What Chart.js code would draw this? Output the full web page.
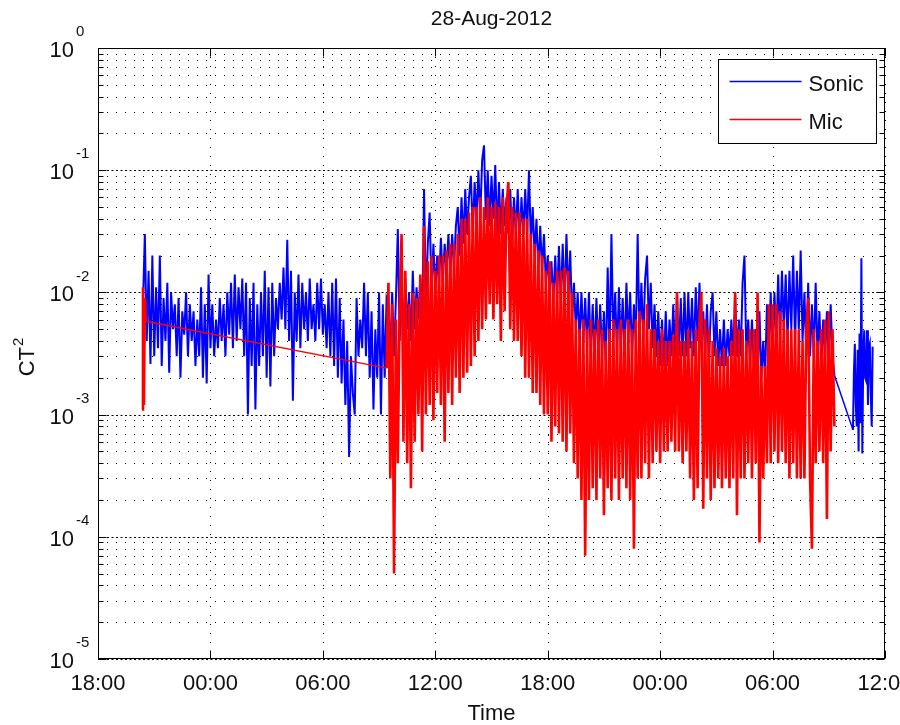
<!DOCTYPE html>
<html><head><meta charset="utf-8">
<script src="https://cdn.jsdelivr.net/npm/chart.js@4.4.0/dist/chart.umd.min.js"></script>
<style>html,body{margin:0;padding:0;background:#fff;overflow:hidden}#wrap{width:900px;height:725px}canvas{display:block}</style>
</head><body><div id="wrap"><canvas id="c" width="900" height="725" style="width:900px;height:725px"></canvas></div>
<script>
// ---------- texts & ticks ----------
const chartTitle = '28-Aug-2012';
const xAxisTitle = 'Time';
const yAxisTitle = 'CT';
const yAxisTitleSup = '2';
const seriesNames = ['Sonic', 'Mic'];
const seriesColors = ['#0000ff', '#ff0000'];
const xTickHours = [0, 6, 12, 18, 24, 30, 36, 42];           // hours after 18:00
const xTickLabels = ['18:00', '00:00', '06:00', '12:00', '18:00', '00:00', '06:00', '12:00'];
const yDecades = [1e-5, 1e-4, 1e-3, 1e-2, 1e-1, 1];
const yExponents = ['-5', '-4', '-3', '-2', '-1', '0'];
const yMinorMultipliers = [2, 3, 4, 5, 6, 7, 8, 9];

// ---------- Sonic (blue) ----------
const sonicStartHour = 2.4;     // sampled every 0.1 h
const sonicStepHour = 0.1;
const sonicValues = [
8e-3,3e-2,4e-3,1.5e-2,2.6e-3,2e-2,3e-3,1.1e-2,3.5e-3,2e-2,
2.5e-3,9e-3,4e-3,1.2e-2,2.2e-3,1e-2,5e-3,8e-3,3e-3,9e-3,
2e-3,7e-3,4.5e-3,1e-2,3e-3,8e-3,4e-3,7e-3,2.5e-3,6e-3,
3e-3,1.1e-2,2e-3,8e-3,1.8e-3,1.4e-2,3.5e-3,8e-3,3e-3,6e-3,
3.5e-3,9e-3,4e-3,8e-3,3e-3,1e-2,4.5e-3,1.2e-2,3.5e-3,1.4e-2,
4e-3,1.1e-2,5e-3,1.3e-2,3e-3,1.2e-2,1e-3,9e-3,2.5e-3,1.2e-2,
1.1e-3,8e-3,2.5e-3,1e-2,3e-3,1.5e-2,2e-3,1.1e-2,1.7e-3,1.2e-2,
3e-3,9e-3,5e-3,1.2e-2,6e-3,1.6e-2,5e-3,2.7e-2,4e-3,1.5e-2,
1.3e-3,1e-2,4e-3,1.4e-2,3.5e-3,1.2e-2,5e-3,1e-2,4e-3,1.3e-2,
5e-3,8e-3,4e-3,1.2e-2,5e-3,1.3e-2,4.5e-3,8e-3,3.5e-3,1e-2,
3e-3,1.2e-2,2.5e-3,1.3e-2,2e-3,9e-3,1.8e-3,6e-3,1.2e-3,4e-3,
4.5e-4,3e-3,1.5e-3,1e-3,9e-3,3e-3,6e-3,3.5e-3,1.2e-2,3e-3,
1e-2,2e-3,7e-3,1.1e-3,5e-3,2e-3,1e-2,1e-3,8e-3,2e-3,9e-3,
8e-3,3e-3,1e-2,3e-3,
9e-3,3.3e-2,4e-3,1.2e-2,4e-3,
1.3e-2,5e-3,1e-2,4e-3,1.5e-2,
5e-3,1.1e-2,6e-3,1.3e-2,5e-3,
7e-2,8e-3,2.5e-2,4.5e-2,1e-2,
2.5e-2,1e-2,2e-2,1.2e-2,2.8e-2,
1.2e-2,2.5e-2,1.5e-2,3e-2,1.4e-2,
3e-2,1.6e-2,3.5e-2,5e-2,2e-2,
6e-2,2.5e-2,7e-2,3e-2,6e-2,
9e-2,3e-2,8e-2,4e-2,1e-1,
4e-2,1.2e-1,1.6e-1,4e-2,1e-1,
3.5e-2,9e-2,4e-2,1.1e-1,3e-2,
8e-2,3e-2,7e-2,3.5e-2,6e-2,
3e-2,7e-2,2.5e-2,6e-2,3e-2,
7e-2,2.5e-2,6e-2,3e-2,7e-2,
3e-2,1e-1,2.5e-2,5e-2,2e-2,
4e-2,1.5e-2,3.5e-2,1.5e-2,3e-2,
1.2e-2,2e-2,1e-2,1.8e-2,8e-3,
2e-2,9e-3,2.4e-2,8e-3,2.5e-2,
8e-3,3e-2,9e-3,2.2e-2,6e-3,
1.2e-2,5e-3,1e-2,4e-3,1e-2,
4e-3,9e-3,3.5e-3,1e-2,3e-3,
8e-3,3e-3,9e-3,3e-3,8e-3,
3e-3,7e-3,2.5e-3,1.6e-2,3e-3,
3e-2,4e-3,1e-2,3e-3,1.1e-2,
3.5e-3,9e-3,3e-3,1.2e-2,4e-3,
1e-2,3e-3,8e-3,4e-3,3e-2,
4e-3,1.2e-2,4e-3,1.3e-2,2e-2,
5e-3,1.2e-2,3.5e-3,8e-3,3e-3,
7e-3,2.5e-3,6e-3,2.5e-3,7e-3,
2.5e-3,6e-3,3e-3,8e-3,3e-3,
1e-2,3e-3,9e-3,3e-3,1e-2,
3e-3,1e-2,3.5e-3,9e-3,3e-3,
1.1e-2,4e-3,1.2e-2,3.5e-3,7e-3,
3e-3,8e-3,2.5e-3,7e-3,1e-2,
3e-3,7e-3,2.5e-3,5e-3,2.5e-3,
6e-3,2.5e-3,5e-3,3e-3,6e-3,
3e-3,1e-2,3e-3,6e-3,3e-3,
1.2e-2,2e-2,3e-3,6e-3,2.5e-3,
6e-3,2.5e-3,5e-3,2e-3,7e-3,
2e-3,4e-3,2e-3,8e-3,3e-3,
1e-2,3e-3,1e-2,4e-3,1.4e-2,
4e-3,1.5e-2,5e-3,1.4e-2,4e-3,
1.5e-2,5e-3,2e-2,4e-3,1.5e-2,
5e-3,2.2e-2,4e-3,1e-2,3e-3,
1.2e-2,3e-3,8e-3,3e-3,1.2e-2,
3e-3,7e-3,2.5e-3,6e-3,3e-3,
7e-3,2.5e-3,8e-3,3e-3,2.1e-3
];
const sonicTailStartHour = 40.29;  // after a gap, sampled every 0.05 h
const sonicTailStepHour = 0.05;
const sonicTailValues = [7.5e-4,2.2e-3,3.8e-3,1.2e-3,8e-4,3.4e-3,5e-4,4.6e-3,8.5e-4,1.9e-2,4.8e-4,3e-3,4.9e-3,2e-3,1.9e-3,4.9e-3,1.2e-3,3.5e-3,3.8e-3,1.5e-3,8e-4,3.6e-3];

// ---------- Mic (red) ----------
const micFirstStartHour = 2.35;   // short burst, every 0.05 h
const micFirstStepHour = 0.05;
const micFirstValues = [1.1e-3, 1.1e-2, 1.2e-3, 9e-3, 5.8e-3];
const micMainStartHour = 15.4;    // after data gap, every 0.1 h
const micMainStepHour = 0.1;
const micMainValues = [
2.4e-3,1.2e-2,3e-4,8e-3,5e-5,
6e-3,4e-4,8e-3,3e-2,6e-4,
1.5e-2,4e-4,8e-3,2.5e-4,1e-2,
6e-4,9e-3,1e-3,1.4e-2,5e-4,
3.5e-2,1e-3,1.8e-2,1.2e-3,2e-2,
9e-4,1.5e-2,1.5e-3,2e-2,1.2e-3,
2e-2,6e-4,2.2e-2,1.5e-3,2.5e-2,
1.2e-3,2.5e-2,2e-3,3e-2,1.5e-3,
4e-2,2e-3,4e-2,2.2e-3,4.5e-2,
2.5e-3,5e-2,3e-3,5e-2,4e-3,
6e-2,5e-3,5e-2,6e-3,6e-2,
8e-3,5e-2,6e-3,5.5e-2,8e-3,
5e-2,4e-3,6e-2,7e-3,5e-2,
8e-2,5e-3,5e-2,4e-3,4.5e-2,
4e-3,4.5e-2,3e-3,4e-2,2e-3,
4e-2,2e-3,3e-2,1.5e-3,2.5e-2,
1.5e-3,2.2e-2,1.2e-3,2e-2,1e-3,
1.5e-2,1e-3,1.8e-2,6e-4,1.2e-2,
8e-4,1.5e-2,7e-4,1.5e-2,6e-4,
1.6e-2,5e-4,1.5e-2,7e-4,1e-2,
4e-4,6e-3,3e-4,5e-3,2e-4,
6e-3,7e-5,5e-3,2e-4,6e-3,
2.5e-4,5e-3,2e-4,6e-3,3e-4,
5e-3,1.5e-4,4e-3,2.5e-4,5e-3,
2e-4,6e-3,3e-4,5e-3,2e-4,
6e-3,3e-4,5e-3,2.5e-4,6e-3,
2e-4,5e-3,8e-5,6e-3,3e-4,
7e-3,3e-4,6e-3,4e-4,8e-3,
3e-4,5e-3,4e-4,5e-3,5e-4,
4e-3,4e-4,5e-3,5e-4,4e-3,
5e-4,4e-3,6e-4,4.5e-3,5e-4,
1e-2,5e-4,4e-3,4e-4,4e-3,
5e-4,5e-3,3e-4,4e-3,2e-4,
5e-3,2.5e-4,6e-3,1e-2,1.7e-4,
6e-3,3e-4,5e-3,2e-4,4e-3,
2.5e-4,3.5e-3,3e-4,3e-3,2.5e-4,
3.5e-3,3e-4,3e-3,2.5e-4,4e-3,
3e-4,1e-2,1.5e-4,5e-3,3e-4,
5e-3,3e-4,4e-3,4e-4,5e-3,
3e-4,5e-3,4e-4,1e-2,9e-5,
2.5e-3,3e-4,2.5e-3,4e-4,8e-3,
4e-4,8e-3,5e-4,8e-3,4e-4,
7e-3,5e-4,6e-3,4e-4,5e-3,
3e-4,5e-3,4e-4,5e-3,3e-4,
5e-3,3e-4,4e-3,3e-4,5e-3,
9e-3,3e-4,8e-5,5e-3,4e-4,
4e-3,5e-4,5e-3,4e-4,6e-3,
1.4e-4,7e-3,5e-4,5e-3,8e-4
];

// ---------- build point lists (time axis = sample grid) ----------
function toPoints(startHour, stepHour, values) {
  return values.map((v, i) => ({ x: startHour + i * stepHour, y: v }));
}
const sonicData = toPoints(sonicStartHour, sonicStepHour, sonicValues)
  .concat(toPoints(sonicTailStartHour, sonicTailStepHour, sonicTailValues));
const micData = toPoints(micFirstStartHour, micFirstStepHour, micFirstValues)
  .concat(toPoints(micMainStartHour, micMainStepHour, micMainValues));

const FONT = '"Liberation Sans", Arial, Helvetica, sans-serif';
// thinner stroke across long data gaps (straight joining segments)
const gapWidth = (wide) => (c) => (c.p1.parsed.x - c.p0.parsed.x > 0.5 ? 1.5 : wide);

const matlabPlugin = {
  id: 'matlabAxes',
  beforeDatasetsDraw(chart) {
    const { ctx, chartArea: a, scales: { x: xs, y: ys } } = chart;
    ctx.save();
    ctx.strokeStyle = '#000';
    ctx.lineWidth = 1;
    ctx.setLineDash([1, 8]);
    for (let d = 0; d < yDecades.length - 1; d++) {
      for (const m of yMinorMultipliers) {
        const py = Math.round(ys.getPixelForValue(yDecades[d] * m)) + 0.5;
        ctx.beginPath(); ctx.moveTo(a.left, py); ctx.lineTo(a.right, py); ctx.stroke();
      }
    }
    ctx.setLineDash([2, 2.5]);
    for (const v of yDecades) {
      const py = Math.round(ys.getPixelForValue(v)) + 0.5;
      ctx.beginPath(); ctx.moveTo(a.left, py); ctx.lineTo(a.right, py); ctx.stroke();
    }
    ctx.setLineDash([1, 8]);
    for (const h of xTickHours) {
      const px = Math.round(xs.getPixelForValue(h)) + 0.5;
      ctx.beginPath(); ctx.moveTo(px, a.top); ctx.lineTo(px, a.bottom); ctx.stroke();
    }
    ctx.restore();
  },
  afterDatasetsDraw(chart) {
    const { ctx, chartArea: a, scales: { x: xs, y: ys } } = chart;
    ctx.save();
    ctx.setLineDash([]);
    ctx.strokeStyle = '#000';
    ctx.lineWidth = 1;
    const L = Math.round(a.left) + 0.5, R = Math.round(a.right) - 0.5;
    const T = Math.round(a.top) + 0.5, B = Math.round(a.bottom) - 0.5;
    ctx.strokeRect(L, T, R - L, B - T);
    const ytick = (v, len) => {
      const py = Math.round(ys.getPixelForValue(v)) + 0.5;
      ctx.beginPath();
      ctx.moveTo(L, py); ctx.lineTo(L + len, py);
      ctx.moveTo(R, py); ctx.lineTo(R - len, py);
      ctx.stroke();
    };
    for (let d = 0; d < yDecades.length - 1; d++) for (const m of yMinorMultipliers) ytick(yDecades[d] * m, 5);
    for (const v of yDecades) ytick(v, 8);
    for (const h of xTickHours) {
      const px = Math.round(xs.getPixelForValue(h)) + 0.5;
      ctx.beginPath();
      ctx.moveTo(px, B); ctx.lineTo(px, B - 8);
      ctx.moveTo(px, T); ctx.lineTo(px, T + 8);
      ctx.stroke();
    }
    // legend
    const lw = 158, lh = 84;
    const lx = Math.round(a.right - 9 - lw) + 0.5, ly = Math.round(a.top + 11) + 0.5;
    ctx.fillStyle = '#fff';
    ctx.fillRect(lx, ly, lw, lh);
    ctx.strokeStyle = '#000';
    ctx.strokeRect(lx, ly, lw, lh);
    ctx.font = '22px ' + FONT;
    ctx.textBaseline = 'middle';
    ctx.textAlign = 'left';
    chart.data.datasets.forEach((ds, i) => {
      const cy = ly + 22 + i * 38;
      ctx.strokeStyle = ds.borderColor;
      ctx.lineWidth = 1.5;
      ctx.beginPath(); ctx.moveTo(lx + 11, cy); ctx.lineTo(lx + 83, cy); ctx.stroke();
      ctx.fillStyle = '#111';
      ctx.fillText(ds.label, lx + 90, cy + 3);
    });
    ctx.restore();
  },
  afterDraw(chart) {
    const { ctx, chartArea: a, scales: { x: xs, y: ys } } = chart;
    const cx = (a.left + a.right) / 2;
    ctx.save();
    ctx.fillStyle = '#111';
    ctx.textBaseline = 'middle';
    ctx.font = '21px ' + FONT;
    ctx.textAlign = 'center';
    ctx.fillText(chartTitle, cx, 19);
    ctx.font = '22px ' + FONT;
    xTickHours.forEach((h, i) => ctx.fillText(xTickLabels[i], xs.getPixelForValue(h), a.bottom + 25));
    ctx.fillText(xAxisTitle, cx, 714);
    yDecades.forEach((v, i) => {
      const py = ys.getPixelForValue(v);
      ctx.font = '22px ' + FONT;
      ctx.textAlign = 'right';
      ctx.fillText('10', a.left - 24, py + 3);
      ctx.font = '15px ' + FONT;
      ctx.textAlign = 'left';
      ctx.fillText(yExponents[i], a.left - 22, py - 16);
    });
    ctx.translate(28, (a.top + a.bottom) / 2 + 4);
    ctx.rotate(-Math.PI / 2);
    ctx.font = '22px ' + FONT;
    const w1 = ctx.measureText(yAxisTitle).width;
    ctx.font = '15px ' + FONT;
    const w2 = ctx.measureText(yAxisTitleSup).width;
    const sx = -(w1 + w2) / 2;
    ctx.textAlign = 'left';
    ctx.font = '22px ' + FONT;
    ctx.fillText(yAxisTitle, sx, 0);
    ctx.font = '15px ' + FONT;
    ctx.fillText(yAxisTitleSup, sx + w1 + 1, -9);
    ctx.restore();
  }
};

new Chart(document.getElementById('c'), {
  type: 'line',
  data: {
    datasets: [
      { label: seriesNames[0], data: sonicData, borderColor: seriesColors[0], borderWidth: 2, pointRadius: 0, tension: 0, fill: false, order: 2,
        segment: { borderWidth: gapWidth(2) } },
      { label: seriesNames[1], data: micData, borderColor: seriesColors[1], borderWidth: 2.6, pointRadius: 0, tension: 0, fill: false, order: 1,
        segment: { borderWidth: gapWidth(2.6) } }
    ]
  },
  options: {
    responsive: false,
    animation: false,
    devicePixelRatio: 1,
    events: [],
    layout: { padding: { left: 98, top: 48, right: 15, bottom: 66 } },
    plugins: { legend: { display: false }, title: { display: false }, tooltip: { enabled: false } },
    scales: {
      x: { type: 'linear', min: xTickHours[0], max: xTickHours[xTickHours.length - 1], display: false,
           afterBuildTicks: s => { s.ticks = xTickHours.map(v => ({ value: v })); } },
      y: { type: 'logarithmic', min: yDecades[0], max: yDecades[yDecades.length - 1], display: false }
    }
  },
  plugins: [matlabPlugin]
});
</script>
</body></html>
